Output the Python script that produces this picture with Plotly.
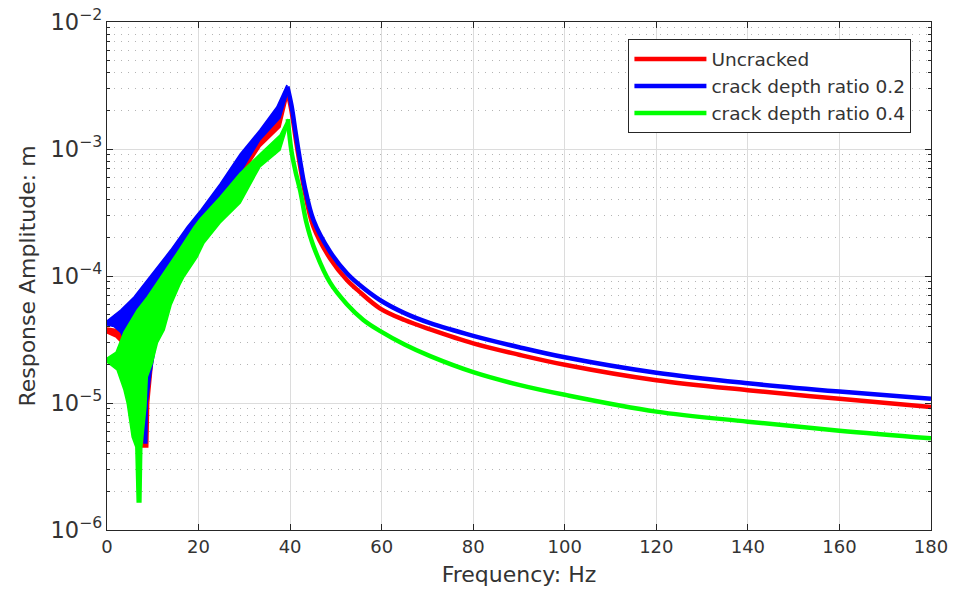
import plotly.graph_objects as go

# ---------------- data (Frequency in Hz, amplitude in m) ----------------
series_names = ["Uncracked", "crack depth ratio 0.2", "crack depth ratio 0.4"]
series_colors = ["#ff0000", "#0000ff", "#00ff00"]

# Uncracked: envelope of the oscillating band below resonance
unc_up_f = [0, 2.0, 3.7, 5.9, 10.3, 13.9, 17.5, 20.5, 24.7, 29.1, 33.4, 37.1, 39.3]
unc_up_v = [3.9e-5, 3.8e-5, 3.8e-5, 6.3e-5, 1.02e-4, 1.45e-4, 2.2e-4, 3.1e-4, 5.0e-4, 8.4e-4, 1.3e-3, 1.95e-3, 2.85e-3]
unc_lo_f = [0, 2.0, 3.7, 4.2, 7.0, 7.5, 7.6, 8.9, 9.1, 10.0, 12.5, 15.9, 20.3, 24.7, 29.1, 33.4, 37.8, 39.3]
unc_lo_v = [3.56e-5, 3.3e-5, 2.86e-5, 2.5e-5, 1.2e-5, 8e-6, 4.5e-6, 4.5e-6, 1.0e-5, 2.2e-5, 6.5e-5, 1.2e-4, 2.3e-4, 3.7e-4, 6.0e-4, 1.04e-3, 1.49e-3, 2.5e-3]
# Uncracked: response above resonance
unc_f = [39.4, 40.3, 41.2, 42.2, 43.2, 45.1, 48.7, 52.4, 55, 59.6, 65, 70.6, 80, 90, 100, 120, 140, 160, 180]
unc_v = [2.85e-3, 2.0e-3, 1.22e-3, 7.3e-4, 4.6e-4, 2.44e-4, 1.38e-4, 9.3e-5, 7.6e-5, 5.57e-5, 4.5e-5, 3.8e-5, 2.95e-5, 2.4e-5, 2.0e-5, 1.51e-5, 1.26e-5, 1.08e-5, 9.3e-6]

# crack depth ratio 0.2
c2_up_f = [0, 3.0, 5.9, 10.3, 13.9, 17.5, 20.5, 24.7, 29.1, 33.4, 37.1, 39.3]
c2_up_v = [4.43e-5, 5.4e-5, 6.84e-5, 1.1e-4, 1.6e-4, 2.43e-4, 3.31e-4, 5.3e-4, 9.14e-4, 1.41e-3, 2.14e-3, 3.19e-3]
c2_lo_f = [0, 1.5, 3.0, 5.0, 7.5, 8.0, 8.1, 8.7, 8.8, 9.6, 10.3, 12.5, 15.9, 20.3, 24.7, 29.1, 33.4, 37.8, 39.3]
c2_lo_v = [4.11e-5, 4.0e-5, 3.6e-5, 2.5e-5, 1.5e-5, 1.0e-5, 4.84e-6, 4.84e-6, 1.0e-5, 1.72e-5, 2.5e-5, 7.0e-5, 1.3e-4, 2.4e-4, 3.9e-4, 6.5e-4, 1.18e-3, 1.76e-3, 2.66e-3]
c2_f = [39.4, 40.3, 41.2, 42.2, 43.2, 45.1, 48.7, 52.4, 55, 59.6, 65, 70.6, 80, 90, 100, 120, 140, 160, 180]
c2_v = [3.1e-3, 2.2e-3, 1.35e-3, 8.0e-4, 5.05e-4, 2.76e-4, 1.56e-4, 1.05e-4, 8.6e-5, 6.47e-5, 5.1e-5, 4.25e-5, 3.38e-5, 2.75e-5, 2.29e-5, 1.73e-5, 1.43e-5, 1.23e-5, 1.08e-5]

# crack depth ratio 0.4
c4_up_f = [0, 2.0, 3.7, 5.2, 6.6, 8.8, 11.8, 15.3, 19.0, 20.3, 24.7, 29.1, 33.4, 37.8, 39.5]
c4_up_v = [2.26e-5, 2.52e-5, 3.62e-5, 4.5e-5, 5.4e-5, 6.84e-5, 9.8e-5, 1.52e-4, 2.43e-4, 2.81e-4, 4.19e-4, 6.47e-4, 9.14e-4, 1.29e-3, 1.72e-3]
c4_lo_f = [0, 2.2, 3.7, 4.4, 5.5, 6.3, 6.6, 7.4, 7.6, 8.5, 8.8, 9.9, 11.0, 12.5, 14.0, 15.9, 16.8, 19.7, 21.2, 24.7, 29.1, 33.4, 37.8, 39.5]
c4_lo_v = [2.1e-5, 1.82e-5, 1.27e-5, 1.0e-5, 5.4e-6, 4.51e-6, 1.66e-6, 1.66e-6, 4.51e-6, 9.31e-6, 1.6e-5, 2.06e-5, 2.97e-5, 3.76e-5, 5.91e-5, 8.5e-5, 9.82e-5, 1.41e-4, 1.82e-4, 2.61e-4, 3.76e-4, 7.21e-4, 9.8e-4, 1.55e-3]
c4_f = [39.5, 40.3, 41.2, 42.2, 43.6, 45.1, 48.7, 52.4, 56, 59.6, 65, 70.6, 80, 90, 100, 120, 140, 160, 180]
c4_v = [1.72e-3, 9.6e-4, 6.6e-4, 4.7e-4, 2.6e-4, 1.72e-4, 8.9e-5, 6.0e-5, 4.51e-5, 3.7e-5, 2.89e-5, 2.34e-5, 1.75e-5, 1.39e-5, 1.16e-5, 8.55e-6, 7.13e-6, 6.05e-6, 5.27e-6]

x_ticks = [0, 20, 40, 60, 80, 100, 120, 140, 160, 180]
x_title = "Frequency: Hz"
y_title = "Response Amplitude: m"

# ---------------- figure ----------------
FONT = "DejaVu Sans"
TXT = "#333333"
AX = "#262626"

fig = go.Figure()
groups = [
    (unc_up_f, unc_up_v, unc_lo_f, unc_lo_v, unc_f, unc_v),
    (c2_up_f, c2_up_v, c2_lo_f, c2_lo_v, c2_f, c2_v),
    (c4_up_f, c4_up_v, c4_lo_f, c4_lo_v, c4_f, c4_v),
]
for (uf, uv, lf, lv, df, dv), name, col in zip(groups, series_names, series_colors):
    fig.add_trace(go.Scatter(
        x=list(uf) + list(reversed(lf)),
        y=list(uv) + list(reversed(lv)),
        mode="lines", fill="toself", fillcolor=col,
        line=dict(color=col, width=1.5),
        showlegend=False, hoverinfo="skip", legendgroup=name,
    ))
    fig.add_trace(go.Scatter(
        x=df, y=dv, mode="lines", name=name, legendgroup=name,
        line=dict(color=col, width=4.5, shape="spline", smoothing=1.0),
    ))

fig.update_layout(
    width=954, height=592,
    margin=dict(l=107, r=23, t=22, b=62),
    paper_bgcolor="white", plot_bgcolor="white",
    font=dict(family=FONT, color=TXT, size=18),
    legend=dict(
        x=0.976, xanchor="right", y=0.966, yanchor="top",
        bgcolor="white", bordercolor=AX, borderwidth=1.2,
        font=dict(family=FONT, size=18.5, color=TXT),
        tracegroupgap=0, itemwidth=72,
    ),
)
fig.update_xaxes(
    range=[0, 180], tickvals=x_ticks, ticks="inside", ticklen=6, tickcolor=AX,
    showline=True, linecolor=AX, linewidth=1.3, mirror="ticks",
    showgrid=True, gridcolor="#dcdcdc", gridwidth=1, zeroline=False,
    tickfont=dict(family=FONT, size=18, color=TXT),
    title=dict(text=x_title, font=dict(family=FONT, size=22, color=TXT), standoff=10),
    automargin=False,
)
fig.update_yaxes(
    type="log", range=[-6, -2], dtick=1, exponentformat="power", showexponent="all",
    ticks="inside", ticklen=6, tickcolor=AX,
    showline=True, linecolor=AX, linewidth=1.3, mirror="ticks",
    showgrid=True, gridcolor="#dcdcdc", gridwidth=1, zeroline=False,
    minor=dict(ticks="inside", ticklen=3, tickcolor=AX, dtick="D1",
               showgrid=True, gridcolor="#b4b4b4", griddash="1px,6px", gridwidth=1.2),
    tickfont=dict(family=FONT, size=18, color=TXT),
    title=dict(text=y_title, font=dict(family=FONT, size=22, color=TXT), standoff=8),
    automargin=False,
)

fig.write_html("out.html")
